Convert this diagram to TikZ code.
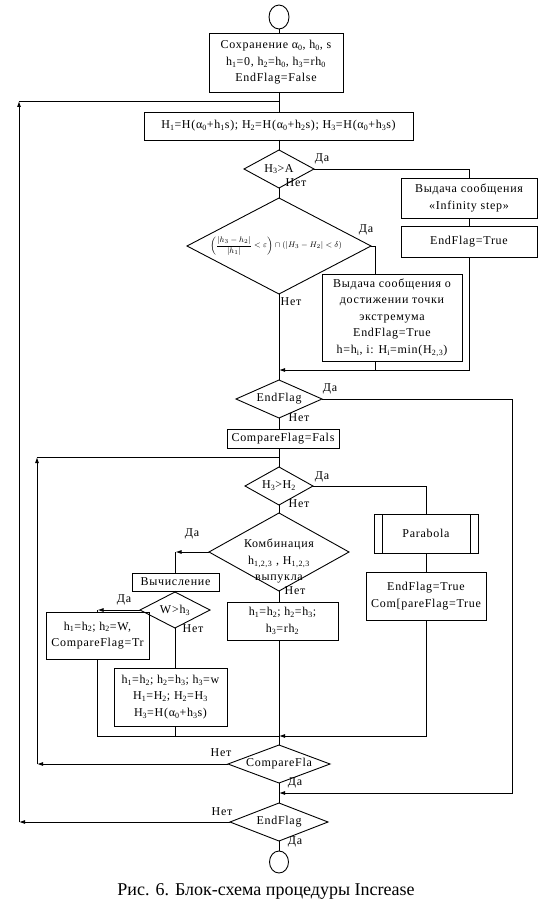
\documentclass[tikz,border=0pt]{standalone}
\usepackage{fontspec}
\setmainfont{Liberation Serif}[LetterSpace=6]
\newfontfamily\capfont{Liberation Serif}
\usetikzlibrary{shapes.geometric, positioning, arrows.meta}
\newcommand{\lo}[1]{\textsubscript{#1}}

\begin{document}
\begin{tikzpicture}[x=1pt, y=-1pt, >={Latex[length=6pt,width=4pt]}, line width=0.9pt,
    block/.style={draw, rectangle, align=center, inner sep=0pt, outer sep=0pt, font=\fontsize{12}{16.5}\selectfont},
    decide/.style={draw, diamond, inner sep=0pt, outer sep=0pt, font=\fontsize{12}{16.5}\selectfont},
    term/.style={draw, ellipse, inner sep=0pt, outer sep=0pt},
    lbl/.style={inner sep=0pt, font=\fontsize{12}{14}\selectfont}]
    \useasboundingbox (0,0) rectangle (555,904);
    %
    \node[term, minimum width=20pt, minimum height=24pt] (start) at (279,17) {};
    \node[block, minimum width=134pt, minimum height=59pt] (save) at (276,62.5)
        {Сохранение α\lo{0}, h\lo{0}, s\\ h\lo{1}=0, h\lo{2}=h\lo{0}, h\lo{3}=rh\lo{0}\\ EndFlag=False};
    \node[block, minimum width=269pt, minimum height=28pt] (calcH) at (278.5,126)
        {H\lo{1}=H(α\lo{0}+h\lo{1}s); H\lo{2}=H(α\lo{0}+h\lo{2}s); H\lo{3}=H(α\lo{0}+h\lo{3}s)};
    \node[decide, minimum width=70pt, minimum height=38pt] (chkA) at (279,169) {\makebox[0pt]{H\lo{3}>A}};
    \node[block, minimum width=136pt, minimum height=40pt] (inf) at (469,198) {Выдача сообщения\\ «Infinity step»};
    \node[block, minimum width=136pt, minimum height=31pt, below=8pt of inf] (endT1) {EndFlag=True};
    \node[decide, minimum width=184pt, minimum height=96pt] (crit) at (279,246)
        {\makebox[0pt]{\kern-6pt\fontsize{8}{10}\selectfont$\displaystyle\left(\frac{|h_3-h_2|}{|h_1|}<\varepsilon\right)\cap\left(|H_3-H_2|<\delta\right)$}};
    \node[block, minimum width=140pt, minimum height=87pt] (extr) at (392,317.5)
        {Выдача сообщения о\\ достижении точки\\ экстремума\\ EndFlag=True\\ h=h\lo{i}, i: H\lo{i}=min(H\lo{2,3})};
    \node[decide, minimum width=86pt, minimum height=38pt] (endA) at (279,399) {\makebox[0pt]{EndFlag}};
    \node[block, minimum width=112pt, minimum height=19pt] (cmpF) at (283,438.5) {CompareFlag=Fals};
    \node[decide, minimum width=68pt, minimum height=38pt] (chkB) at (279,486) {\makebox[0pt]{H\lo{3}>H\lo{2}}};
    \node[block, minimum width=104pt, minimum height=39pt] (parab) at (426,533.5) {Parabola};
    \node[block, minimum width=120pt, minimum height=48pt, below=19pt of parab] (endT2) {EndFlag=True\\ Com[pareFlag=True};
    \node[decide, minimum width=140pt, minimum height=78pt] (komb) at (279,552)
        {\raisebox{-12pt}[0pt][0pt]{\makebox[0pt]{\begin{tabular}{@{}c@{}}Комбинация\\ h\lo{1,2,3} , H\lo{1,2,3}\\ выпукла\end{tabular}}}};
    \node[block, minimum width=87pt, minimum height=18pt] (vych) at (175.5,582) {Вычисление};
    \node[decide, minimum width=70pt, minimum height=36pt] (chkW) at (175,610) {\makebox[0pt]{W>h\lo{3}}};
    \node[block, minimum width=103pt, minimum height=47pt] (setW) at (97.5,635.5) {h\lo{1}=h\lo{2}; h\lo{2}=W,\\ CompareFlag=Tr};
    \node[block, minimum width=113pt, minimum height=58pt] (shift3) at (170.5,697)
        {h\lo{1}=h\lo{2}; h\lo{2}=h\lo{3}; h\lo{3}=w\\ H\lo{1}=H\lo{2}; H\lo{2}=H\lo{3}\\ H\lo{3}=H(α\lo{0}+h\lo{3}s)};
    \node[block, minimum width=111pt, minimum height=38pt] (shift2) at (282.5,621) {h\lo{1}=h\lo{2}; h\lo{2}=h\lo{3};\\ h\lo{3}=rh\lo{2}};
    \node[decide, minimum width=102pt, minimum height=38pt] (cmpFla) at (279,764) {\makebox[0pt]{CompareFla}};
    \node[decide, minimum width=98pt, minimum height=38pt] (endB) at (279,822) {\makebox[0pt]{EndFlag}};
    \node[term, minimum width=19pt, minimum height=22pt] (stop) at (279,862) {};
    \node[inner sep=0pt, font=\capfont\fontsize{18}{20}\selectfont] (cap) at (266,891) {Рис. 6. Блок-схема процедуры Increase};
    % double sides of the subroutine box
    \draw ([xshift=8pt]parab.north west) -- ([xshift=8pt]parab.south west);
    \draw ([xshift=-8pt]parab.north east) -- ([xshift=-8pt]parab.south east);
    %
    \coordinate (j0) at (279,101);
    \coordinate (tl) at (19,101);
    \coordinate (bl) at (19,822);
    \coordinate (j1) at (279,370);
    \coordinate (xr) at (375,246);
    \coordinate (j2) at (279,457);
    \coordinate (lt) at (37,457);
    \coordinate (lb) at (37,764);
    \coordinate (j4) at (279,736);
    \coordinate (rr) at (512,793);
    \coordinate (j5) at (279,793);
    %
    \draw (start.south) -- (save.north -| start);
    \draw (save.south -| start) -- (calcH.north -| start);
    \draw (calcH.south -| start) -- (chkA.north);
    \draw (chkA.east) -| (inf.north);
    \draw (inf) -- (endT1);
    \draw[->] (endT1.south) |- (j1);
    \draw (chkA.south) -- (crit.north);
    \draw (crit.east) -- (xr) -- (xr |- extr.north);
    \draw (extr.south -| xr) -- (xr |- j1);
    \draw (crit.south) -- (endA.north);
    \draw[->] (endA.east) -| (rr) -- (j5);
    \draw (endA.south) -- (cmpF.north -| endA);
    \draw (cmpF.south -| endA) -- (chkB.north);
    \draw (chkB.east) -| (parab.north);
    \draw (parab) -- (endT2);
    \draw[->] (endT2.south) |- (j4);
    \draw (chkB.south) -- (komb.north);
    \draw[->] (komb.west) -- (komb.west -| vych);
    \draw (komb.west -| vych) -- (vych.north);
    \draw (vych.south) -- (chkW.north);
    \draw[->] (chkW.west) -- (chkW.west -| setW);
    \draw (chkW.west -| setW) -- (setW.north);
    \draw (chkW.south) -- (shift3.north -| chkW);
    \draw (shift3.south -| chkW) -- (chkW |- j4);
    \draw (setW.south) |- (j4);
    \draw (komb.south) -- (shift2.north -| komb);
    \draw (shift2.south -| komb) -- (cmpFla.north);
    \draw[->] (cmpFla.west) -- (lb);
    \draw[->] (lb) -- (lt);
    \draw (lt) -- (j2);
    \draw (cmpFla.south) -- (endB.north);
    \draw[->] (endB.west) -- (bl);
    \draw[->] (bl) -- (tl);
    \draw (tl) -- (j0);
    \draw (endB.south) -- (stop.north);
    %
    \node[lbl] (yA) at (322,159) {Да};
    \node[lbl] (nA) at (296,183) {Нет};
    \node[lbl] (yC) at (366,230) {Да};
    \node[lbl] (nC) at (291,302) {Нет};
    \node[lbl] (yE) at (330,389) {Да};
    \node[lbl] (nE) at (299,418) {Нет};
    \node[lbl] (yB) at (322,477) {Да};
    \node[lbl] (nB) at (299,504) {Нет};
    \node[lbl] (yK) at (192,534) {Да};
    \node[lbl] (nK) at (295,591) {Нет};
    \node[lbl] (yW) at (124,600) {Да};
    \node[lbl] (nW) at (193,629) {Нет};
    \node[lbl] (nF) at (221,753) {Нет};
    \node[lbl] (yF) at (295,783) {Да};
    \node[lbl] (nX) at (222,812) {Нет};
    \node[lbl] (yX) at (295,842) {Да};
\end{tikzpicture}
\end{document}
